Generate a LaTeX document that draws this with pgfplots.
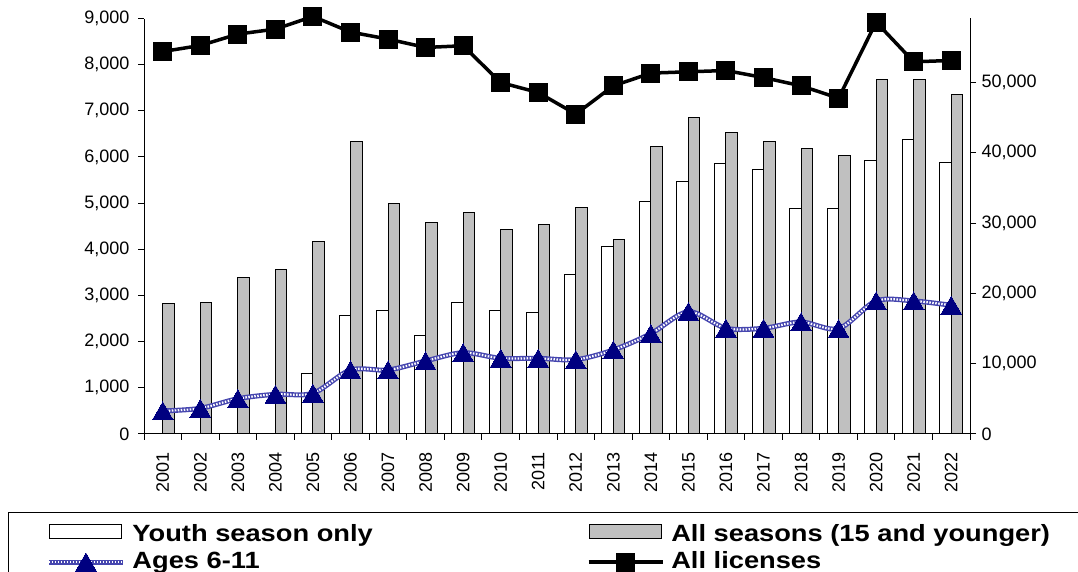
\documentclass[border=0pt]{standalone}
\usepackage{pgfplots}
\usepackage{pgfplotstable}
\pgfplotsset{compat=1.18}
\usepackage{graphicx}
\usepackage{fontspec}
\setmainfont{Liberation Sans}
\definecolor{navy}{RGB}{0,0,128}
\definecolor{agesbase}{RGB}{70,70,175}
\definecolor{barGray}{RGB}{192,192,192}
\pgfplotstableread{
x ages
0 500
1 556
2 765
3 860
4 882
5 1387
6 1387
7 1582
8 1762
9 1640
10 1640
11 1610
12 1820
13 2174
14 2650
15 2290
16 2290
17 2427
18 2282
19 2882
20 2882
21 2788
}\agesdata
\tikzset{
  agesbasestyle/.style={draw=agesbase, line width=5pt},
  agesoverstyle/.style={draw=white, line width=2.2pt, dash pattern=on 1.5pt off 1.5pt},
}
\pgfplotsset{
  barlegend/.style={legend image code/.code={\draw[##1] (1pt,-2pt) rectangle (73pt,12pt);}},
  linelegend/.style={legend image code/.code={\draw[mark repeat=2,mark phase=2,##1] plot coordinates {(0pt,1pt) (37pt,1pt) (74pt,1pt)};}},
  ageslegend/.style={legend image code/.code={
     \draw[agesbasestyle] (0pt,1pt) -- (74pt,1pt);
     \draw[agesoverstyle] (0pt,1pt) -- (74pt,1pt);
     \path[only marks, mark=triangle*, mark size=12pt, mark options={fill=navy, draw=navy, line width=0pt}] plot coordinates {(37pt,-2pt)};}},
  youth/.style={draw=black, fill=white, line width=1pt},
  allseas/.style={draw=black, fill=barGray, line width=1pt},
  lic/.style={color=black, line width=3.5pt, mark=square*, mark size=9pt, mark options={line width=0pt}},
  commonax/.style={
    at={(144pt,138pt)}, anchor=south west, scale only axis,
    width=826pt, height=415.5pt,
    xmin=-0.5, xmax=21.5, ymin=0,
    axis line style={line width=1pt, -},
    tick align=outside, major tick length=6pt, minor tick length=6pt,
    tick style={line width=1pt, black},
    tick label style={font=\fontsize{18}{20}\selectfont},
    scaled y ticks=false,
    /pgf/number format/1000 sep={,},
    /pgf/number format/assume math mode=true,
    clip=false,
  },
}
\begin{document}
\begin{tikzpicture}
\useasboundingbox (0,0) rectangle (1078pt,572pt);
\clip (0,0) rectangle (1078pt,572pt);
\begin{axis}[commonax,
  ymax=9000,
  axis x line*=bottom, axis y line*=left,
  ytick={0,1000,...,9000},
  yticklabel style={xshift=-5pt},
  xtick={0,...,21},
  xticklabels={2001,2002,2003,2004,2005,2006,2007,2008,2009,2010,2011,2012,2013,2014,2015,2016,2017,2018,2019,2020,2021,2022},
  minor xtick={-0.5,0.5,...,21.5},
  major x tick style={draw=none},
  xticklabel style={rotate=90, anchor=east, inner xsep=12pt},
]
\addplot[ybar, bar width=11.5pt, bar shift=-5.75pt, youth] coordinates {
(4,1315) (5,2557) (6,2665) (7,2138) (8,2853) (9,2665) (10,2629) (11,3452) (12,4052) (13,5027) (14,5475) (15,5850) (16,5735) (17,4875) (18,4875) (19,5922) (20,6377) (21,5887)};
\addplot[ybar, bar width=11.5pt, bar shift=5.75pt, allseas] coordinates {
(0,2817) (1,2853) (2,3380) (3,3568) (4,4167) (5,6334) (6,4990) (7,4579) (8,4803) (9,4427) (10,4535) (11,4911) (12,4204) (13,6226) (14,6862) (15,6522) (16,6334) (17,6182) (18,6039) (19,7686) (20,7686) (21,7346)};
\addplot[agesbasestyle, smooth, no marks] table[x=x, y=ages] {\agesdata};
\addplot[agesoverstyle, smooth, no marks] table[x=x, y=ages] {\agesdata};
\addplot[only marks, mark=triangle*, mark size=12pt, mark options={fill=navy, draw=navy, line width=0pt, yshift=-3pt}] table[x=x, y=ages] {\agesdata};
\end{axis}
\begin{axis}[commonax,
  ymax=59100,
  axis y line*=right, axis x line=none,
  ytick={0,10000,...,50000},
  yticklabel style={xshift=2pt},
  legend columns=2,
  legend cell align=left,
  legend style={at={(-0.16465,-0.18773)}, anchor=north west,
    draw=black, line width=1pt, inner xsep=38pt, inner ysep=11pt,
    font=\bfseries\fontsize{23.5}{26}\selectfont,
    row sep=4pt,
    nodes={inner sep=0pt, text height=17pt, text depth=6pt},
    /tikz/column 1/.style={column sep=7pt},
    /tikz/column 2/.style={column sep=214pt},
    /tikz/column 3/.style={column sep=7pt}},
]
\addlegendimage{youth, barlegend}
\addlegendentry{\scalebox{1.16}[1]{Youth season only}}
\addlegendimage{allseas, barlegend}
\addlegendentry{\scalebox{1.16}[1]{All seasons (15 and younger)}}
\addlegendimage{ageslegend}
\addlegendentry{\scalebox{1.16}[1]{Ages 6-11}}
\addplot[lic, linelegend] coordinates {
(0,54400) (1,55260) (2,56880) (3,57590) (4,59390) (5,57170) (6,56170) (7,54980) (8,55220) (9,49990) (10,48570) (11,45500) (12,49520) (13,51330) (14,51520) (15,51700) (16,50700) (17,49520) (18,47770) (19,58590) (20,52940) (21,53130)};
\addlegendentry{\scalebox{1.16}[1]{All licenses}}
\end{axis}
\end{tikzpicture}
\end{document}
